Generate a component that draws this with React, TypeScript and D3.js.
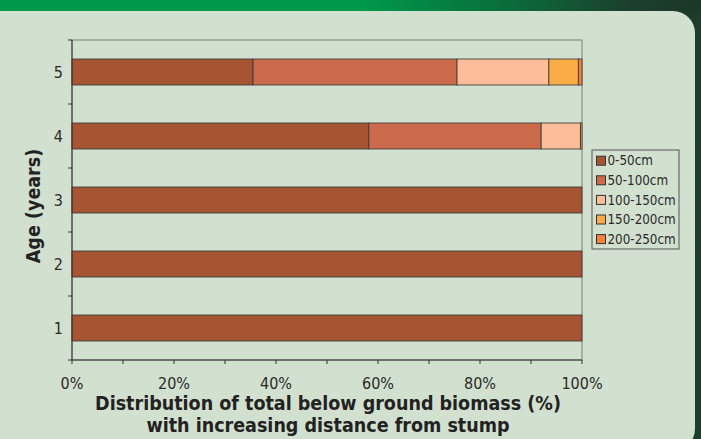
import React from 'react';
import * as d3 from 'd3';

// ages, top to bottom
const ages = ['5', '4', '3', '2', '1'];
const distances = ['0-50cm', '50-100cm', '100-150cm', '150-200cm', '200-250cm'];
const colors = ['#a75433', '#cc6b4b', '#fcbd98', '#fcac47', '#f4823a'];

// percent of below ground biomass per distance class
const share0_50 = [35.5, 58.2, 100, 100, 100];
const share50_100 = [40.0, 33.8, 0, 0, 0];
const share100_150 = [18.0, 7.7, 0, 0, 0];
const share150_200 = [5.8, 0.3, 0, 0, 0];
const share200_250 = [0.7, 0, 0, 0, 0];

const xTicks = [0, 20, 40, 60, 80, 100];

const W = 701;
const H = 439;

const App: React.FC = () => {
  const x = d3.scaleLinear().domain([0, 100]).range([72, 582]);
  const y = d3.scaleBand<string>().domain(ages).range([40, 360]).paddingInner(0.594).paddingOuter(0.297);

  const rows = ages.map((age, i) => ({
    age,
    '0-50cm': share0_50[i],
    '50-100cm': share50_100[i],
    '100-150cm': share100_150[i],
    '150-200cm': share150_200[i],
    '200-250cm': share200_250[i],
  }));
  const series = d3.stack<any>().keys(distances)(rows);

  const step = y.step();
  const bandEdges = d3.range(ages.length + 1).map(k => 40 + k * step);
  const minorX = d3.range(0, 101, 10);

  const tickFont = '"DejaVu Sans Condensed", "DejaVu Sans", sans-serif';

  return (
    <svg width={W} height={H} style={{ position: 'absolute', left: 0, top: 0 }}>
      <defs>
        <linearGradient id="topband" x1="0" x2="1" y1="0" y2="0">
          <stop offset="0" stopColor="#00994c" />
          <stop offset="0.52" stopColor="#00984b" />
          <stop offset="0.72" stopColor="#0a6e3b" />
          <stop offset="0.9" stopColor="#1c3f2d" />
          <stop offset="1" stopColor="#1a3828" />
        </linearGradient>
      </defs>
      <rect x={0} y={0} width={W} height={H} fill="#1c3d2b" />
      <rect x={0} y={0} width={W} height={12} fill="url(#topband)" />
      <rect x={-30} y={11} width={725} height={440} rx={22} ry={22} fill="#d2e0cf" />

      {/* plot frame */}
      <rect x={x(0)} y={40} width={x(100) - x(0)} height={320} fill="none" stroke="#7a7f7a" strokeWidth={1} />

      {/* bars */}
      {series.map((s, si) => (
        <g key={s.key}>
          {s.map((d: any, i: number) => {
            const w = x(d[1]) - x(d[0]);
            if (w <= 0) return null;
            return (
              <rect
                key={i}
                x={x(d[0])}
                y={y(d.data.age)}
                width={w}
                height={y.bandwidth()}
                fill={colors[si]}
                stroke="#3a3a3a"
                strokeOpacity={0.85}
                strokeWidth={1}
              />
            );
          })}
        </g>
      ))}

      {/* y axis */}
      <line x1={x(0)} x2={x(0)} y1={40} y2={360} stroke="#333" />
      {bandEdges.map((e, i) => (
        <line key={i} x1={x(0) - 4} x2={x(0)} y1={e} y2={e} stroke="#333" />
      ))}
      {ages.map(a => (
        <text key={a} x={63} y={(y(a) as number) + y.bandwidth() / 2} dy="0.35em" textAnchor="end"
          fontFamily={tickFont} fontSize={16} fill="#2a2a2a">{a}</text>
      ))}

      {/* x axis */}
      <line x1={x(0)} x2={x(100)} y1={360} y2={360} stroke="#333" />
      {minorX.map(t => (
        <line key={t} x1={x(t)} x2={x(t)} y1={360} y2={364} stroke="#333" />
      ))}
      {xTicks.map(t => (
        <text key={t} x={x(t)} y={383} dy="0.35em" textAnchor="middle"
          fontFamily={tickFont} fontSize={16} fill="#2a2a2a">{t}%</text>
      ))}

      {/* titles */}
      <text x={328} y={403} dy="0.35em" textAnchor="middle" fontFamily={tickFont} fontWeight="bold"
        fontSize={19.5} fill="#222">Distribution of total below ground biomass (%)</text>
      <text x={328} y={425} dy="0.35em" textAnchor="middle" fontFamily={tickFont} fontWeight="bold"
        fontSize={19.5} fill="#222">with increasing distance from stump</text>
      <text transform="translate(33,206) rotate(-90)" dy="0.35em" textAnchor="middle" fontFamily={tickFont}
        fontWeight="bold" fontSize={19.5} fill="#222">Age (years)</text>

      {/* legend */}
      <rect x={592} y={150} width={87} height={99} fill="none" stroke="#555" strokeWidth={1} />
      {distances.map((d, i) => {
        const cy = 160.7 + i * 19.6;
        return (
          <g key={d}>
            <rect x={596.5} y={cy - 4.5} width={9} height={9} fill={colors[i]} stroke="#333" strokeWidth={1} />
            <text x={607.5} y={cy} dy="0.35em" fontFamily={tickFont} fontSize={13.3} fill="#2a2a2a">{d}</text>
          </g>
        );
      })}
    </svg>
  );
};

export default App;
